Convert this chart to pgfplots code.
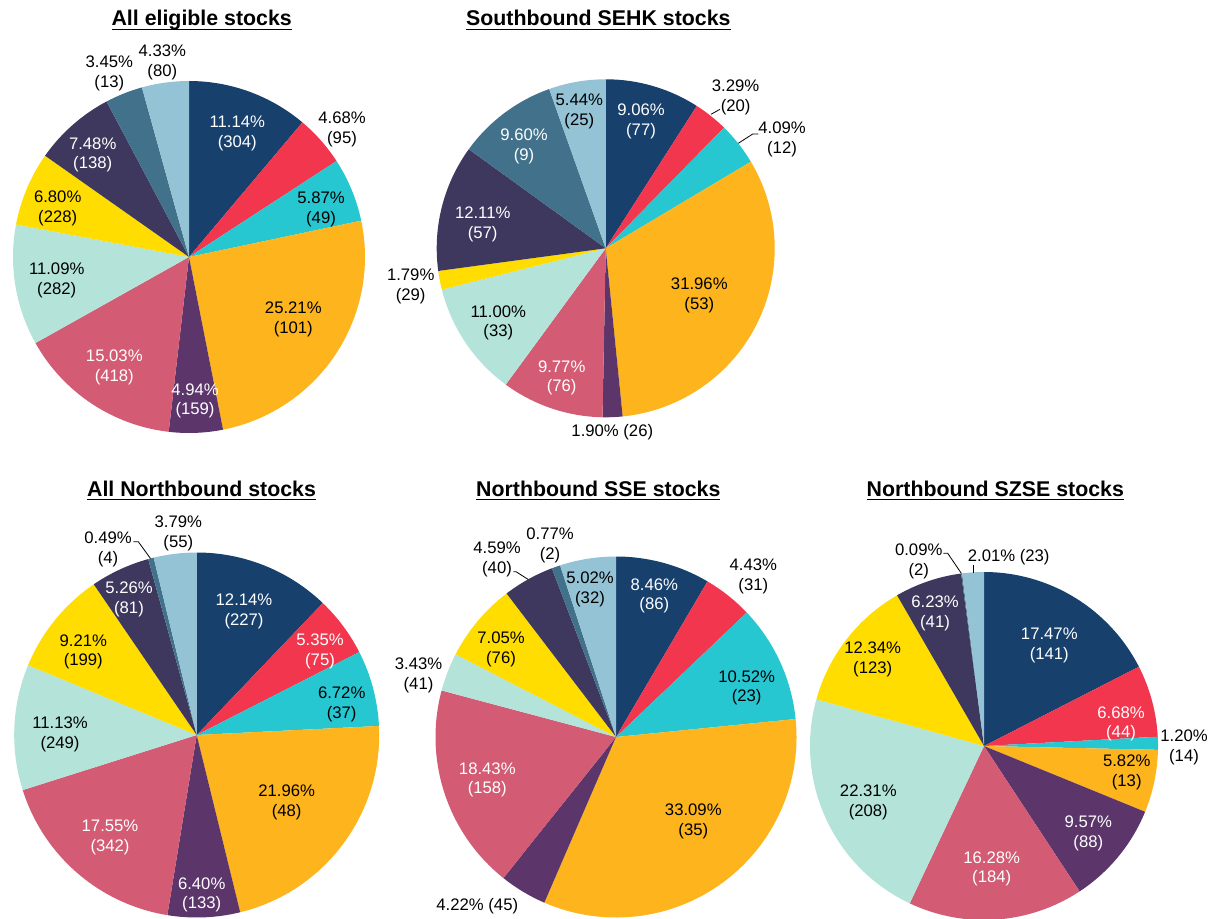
\documentclass[border=0pt]{standalone}
\usepackage{pgfplots}
\pgfplotsset{compat=1.18}
\usepackage{pgfplotstable}
\usepackage{fontspec}
\setmainfont{Liberation Sans}

% slice colours, same order in every pie
\definecolor{s1}{HTML}{17406D}
\definecolor{s2}{HTML}{F2364E}
\definecolor{s3}{HTML}{27C7D2}
\definecolor{s4}{HTML}{FDB41D}
\definecolor{s5}{HTML}{5C356B}
\definecolor{s6}{HTML}{D35B74}
\definecolor{s7}{HTML}{B3E3D9}
\definecolor{s8}{HTML}{FFDD00}
\definecolor{s9}{HTML}{3F385E}
\definecolor{s10}{HTML}{41718B}
\definecolor{s11}{HTML}{93C3D5}

% pct, count, label position (image px, y down), label colour, lines
\pgfplotstableread{
pct n lx ly tc nl
11.14 304 237.3 131.7 white 2
4.68 95 342 127.5 black 2
5.87 49 321 208 black 2
25.21 101 293.3 318 black 2
4.94 159 195 399.3 white 2
15.03 418 114.3 365.7 white 2
11.09 282 56.7 278.5 black 2
6.80 228 57.7 207 black 2
7.48 138 92.7 153.3 white 2
3.45 13 109.3 72 black 2
4.33 80 162.3 60.7 black 2
}\pieA

\pgfplotstableread{
pct n lx ly tc nl
9.06 77 641 119.7 white 2
3.29 20 735.6 95.5 black 2
4.09 12 782 138 black 2
31.96 53 699.3 293.8 black 2
1.90 26 612.3 430 black 1
9.77 76 561.7 376.3 white 2
11.00 33 498.3 321.3 black 2
1.79 29 410.7 284.5 black 2
12.11 57 482.7 222.8 white 2
9.60 9 524 144.5 white 2
5.44 25 579.3 109.7 black 2
}\pieB

\pgfplotstableread{
pct n lx ly tc nl
12.14 227 244 609.7 white 2
5.35 75 320 649.7 white 2
6.72 37 341.7 702.5 black 2
21.96 48 286.7 801 black 2
6.40 133 201.7 893.3 white 2
17.55 342 110 835.5 white 2
11.13 249 60 732.7 black 2
9.21 199 83.3 650.3 black 2
5.26 81 129 598 white 2
0.49 4 108 548 black 2
3.79 55 178.3 532 black 2
}\pieC

\pgfplotstableread{
pct n lx ly tc nl
8.46 86 654.3 594.3 white 2
4.43 31 753.3 575 black 2
10.52 23 746.7 686.2 black 2
33.09 35 693.3 820 black 2
4.22 45 477.3 904.3 black 1
18.43 158 487.3 778.3 white 2
3.43 41 418.5 673.7 black 2
7.05 76 501 648 black 2
4.59 40 497 558 black 2
0.77 2 550 544 black 2
5.02 32 590 588 black 2
}\pieD

\pgfplotstableread{
pct n lx ly tc nl
17.47 141 1049.3 643.8 white 2
6.68 44 1121 722.3 white 2
1.20 14 1184 745.7 black 2
5.82 13 1126.7 771 black 2
9.57 88 1088.3 832 white 2
16.28 184 991.7 867.3 white 2
22.31 208 868.3 801 black 2
12.34 123 872.7 657.8 black 2
6.23 41 935 612 white 2
0.09 2 918.7 559.7 black 2
2.01 23 1008.7 555 black 1
}\pieE

% #1 table, #2 cx, #3 cy (image px, y down), #4 radius px
\newcommand\pie[4]{%
  \pgfplotstablegetrowsof{#1}%
  \pgfmathtruncatemacro\lastrow{\pgfplotsretval-1}%
  \gdef\cum{0}%
  \foreach \i in {0,...,\lastrow}{%
    \pgfplotstablegetelem{\i}{pct}\of{#1}\let\pct\pgfplotsretval
    \pgfmathsetmacro\angA{90-3.6*\cum}%
    \pgfmathsetmacro\angB{90-3.6*(\cum+\pct)}%
    \pgfmathsetmacro\xs{#2+#4*cos(\angA)}%
    \pgfmathsetmacro\ys{918-#3+#4*sin(\angA)}%
    \pgfmathsetmacro\cy{918-#3}%
    \pgfmathsetmacro\rr{#4*0.5}%
    \pgfmathtruncatemacro\kk{\i+1}%
    \edef\cmd{\noexpand\fill[s\kk] (axis cs:#2,\cy) -- (axis cs:\xs,\ys)
      arc[start angle=\angA, end angle=\angB, radius=\rr pt] -- cycle;}\cmd
    \pgfmathsetmacro\newcum{\cum+\pct}\xdef\cum{\newcum}%
  }%
  \foreach \i in {0,...,\lastrow}{%
    \pgfplotstablegetelem{\i}{pct}\of{#1}\let\pct\pgfplotsretval
    \pgfplotstablegetelem{\i}{n}\of{#1}\let\cnt\pgfplotsretval
    \pgfplotstablegetelem{\i}{lx}\of{#1}\let\lx\pgfplotsretval
    \pgfplotstablegetelem{\i}{ly}\of{#1}\let\ly\pgfplotsretval
    \pgfplotstablegetelem{\i}{tc}\of{#1}\let\lblc\pgfplotsretval
    \pgfplotstablegetelem{\i}{nl}\of{#1}\let\nlines\pgfplotsretval
    \pgfmathsetmacro\yy{918-\ly}%
    \ifnum\nlines=1
      \edef\txt{\pct\noexpand\% (\cnt)}%
    \else
      \edef\txt{\pct\noexpand\%\noexpand\\(\cnt)}%
    \fi
    \edef\cmd{\noexpand\node[lbl, text=\lblc] at (axis cs:\lx,\yy) {\txt};}\cmd
  }%
}

\newcommand\ttlu[1]{\setbox0\hbox{#1}\leavevmode\rlap{\rule[-2.2pt]{\wd0}{0.9pt}}\box0}

\begin{document}
\begin{tikzpicture}[
  lbl/.style={font=\fontsize{8.35}{9.85}\selectfont, align=center, inner sep=0pt, anchor=center, yshift=-0.85pt},
  ttl/.style={font=\fontsize{10.67}{12}\selectfont\bfseries, inner sep=0pt, anchor=base},
  lead/.style={black, line width=0.4pt}]
\begin{axis}[x=0.5pt, y=0.5pt, xmin=0, xmax=1213, ymin=0, ymax=918,
  hide axis, clip=false, at={(0,0)}, anchor=south west]
\pie{\pieA}{189}{257}{176}
\pie{\pieB}{605.7}{248.3}{169}
\pie{\pieC}{196.7}{735}{182.5}
\pie{\pieD}{616}{737}{180.5}
\pie{\pieE}{984}{746}{174}

\node[ttl] at (axis cs:201.7,892) {\ttlu{All eligible stocks}};
\node[ttl] at (axis cs:598.3,892) {\ttlu{Southbound SEHK stocks}};
\node[ttl] at (axis cs:201.5,422) {\ttlu{All Northbound stocks}};
\node[ttl] at (axis cs:598.3,422) {\ttlu{Northbound SSE stocks}};
\node[ttl] at (axis cs:995.3,422) {\ttlu{Northbound SZSE stocks}};

% leader lines
\draw[lead] (axis cs:711,803.7) -- (axis cs:720,808.7);
\draw[lead] (axis cs:738.3,774.7) -- (axis cs:752.7,784) -- (axis cs:758.3,784);
\draw[lead] (axis cs:133.3,376.3) -- (axis cs:138.3,376.3) -- (axis cs:150.5,359.5);
\draw[lead] (axis cs:513.3,346.3) -- (axis cs:516,346.3) -- (axis cs:528.3,338.5);
\draw[lead] (axis cs:943.3,364.7) -- (axis cs:947.7,364.7) -- (axis cs:961.3,344.7);
\draw[lead] (axis cs:972.9,353) -- (axis cs:972.9,345.5);
\end{axis}
\pgfresetboundingbox
\useasboundingbox (0,0) rectangle (606.5pt,459pt);
\end{tikzpicture}
\end{document}
